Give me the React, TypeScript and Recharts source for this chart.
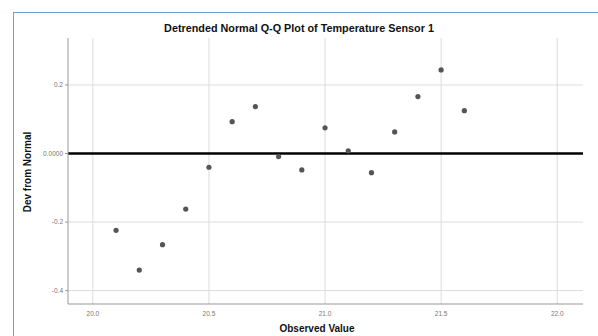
import React from 'react';
import { ScatterChart, Scatter, XAxis, YAxis, CartesianGrid, ReferenceLine } from 'recharts';

const observed = [20.1, 20.2, 20.3, 20.4, 20.5, 20.6, 20.7, 20.8, 20.9, 21.0, 21.1, 21.2, 21.3, 21.4, 21.5, 21.6];
const devFromNormal = [-0.224, -0.34, -0.266, -0.162, -0.04, 0.093, 0.137, -0.009, -0.048, 0.075, 0.008, -0.056, 0.063, 0.166, 0.244, 0.125];

const xTicks = [20.0, 20.5, 21.0, 21.5, 22.0];
const yTicks = [-0.4, -0.2, 0, 0.2];

const points = observed.map((x, i) => ({ x, y: devFromNormal[i] }));

const tickStyle = { fontSize: 6.5, fill: '#777', fontFamily: 'Arial, "Liberation Sans", sans-serif' };

const Dot = (props: any) => <circle cx={props.cx} cy={props.cy} r={2.6} fill="#555" />;

const App: React.FC = () => {
    return (
        <div style={{ position: 'absolute', left: 0, top: 0, width: 598, height: 336, background: '#fff', overflow: 'hidden', fontFamily: 'Arial, "Liberation Sans", sans-serif' }}>
            <div style={{ position: 'absolute', left: 13, top: 12, width: 600, height: 340, borderLeft: '1.5px solid #6f9bd8', borderTop: '1.5px solid #6f9bd8' }} />
            <ScatterChart width={598} height={336} margin={{ top: 38, right: 15, left: 28, bottom: 12 }}>
                <CartesianGrid stroke="#dcdcdc" strokeWidth={1} horizontalValues={yTicks} verticalValues={xTicks} />
                <XAxis
                    type="number"
                    dataKey="x"
                    domain={[19.893, 22.111]}
                    ticks={xTicks}
                    allowDataOverflow
                    height={20}
                    tickFormatter={(v: number) => v.toFixed(1)}
                    tick={tickStyle}
                    tickLine={false}
                    axisLine={{ stroke: '#999' }}
                    dy={-1}
                />
                <YAxis
                    type="number"
                    dataKey="y"
                    domain={[-0.439, 0.337]}
                    ticks={yTicks}
                    allowDataOverflow
                    width={40}
                    tickFormatter={(v: number) => (v === 0 ? '0.0000' : String(v))}
                    tick={tickStyle}
                    tickSize={3}
                    tickLine={{ stroke: '#999' }}
                    axisLine={{ stroke: '#999' }}
                />
                <ReferenceLine y={0} stroke="#000" strokeWidth={2.5} />
                <Scatter data={points} fill="#555" shape={Dot} isAnimationActive={false} />
            </ScatterChart>
            <div style={{ position: 'absolute', left: 0, width: 598, top: 22, textAlign: 'center', fontSize: 10.8, fontWeight: 'bold', color: '#111' }}>
                Detrended Normal Q-Q Plot of Temperature Sensor 1
            </div>
            <div style={{ position: 'absolute', left: 217, width: 200, top: 323, textAlign: 'center', fontSize: 10, fontWeight: 'bold', color: '#111' }}>
                Observed Value
            </div>
            <div style={{ position: 'absolute', left: 27, top: 172, width: 0, height: 0 }}>
                <div style={{ position: 'absolute', transform: 'translate(-50%, -50%) rotate(-90deg)', whiteSpace: 'nowrap', fontSize: 10, fontWeight: 'bold', color: '#111' }}>
                    Dev from Normal
                </div>
            </div>
        </div>
    );
};

export default App;
